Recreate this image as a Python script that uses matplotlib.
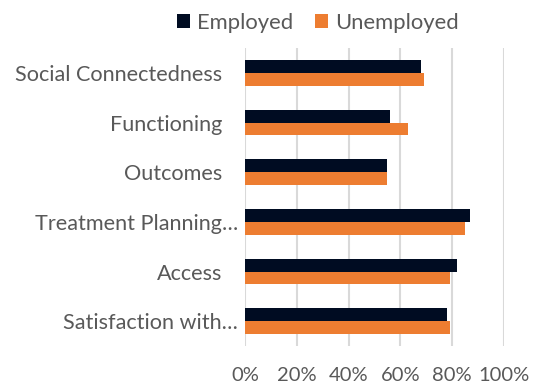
import numpy as np
import matplotlib.pyplot as plt
from matplotlib.transforms import ScaledTranslation

# data
categories = ['Social Connectedness', 'Functioning', 'Outcomes',
              'Treatment Planning…', 'Access', 'Satisfaction with…']
employed = [68, 56, 55, 87, 82, 78]
unemployed = [69, 63, 55, 85, 79, 79]
xticks = [0, 20, 40, 60, 80, 100]

plt.rcParams['font.family'] = ['Lato', 'DejaVu Sans']

fig = plt.figure(figsize=(5.35, 3.86), dpi=100)
ax = fig.add_axes([245 / 535, 1 - 346 / 386, 259 / 535, 298 / 386])

y = np.arange(len(categories))
h = 0.26
ax.barh(y - h / 2, employed, height=h, color='#000c22', label='Employed')
ax.barh(y + h / 2, unemployed, height=h, color='#ed7d31', label='Unemployed')

ax.set_ylim(len(categories) - 0.5, -0.5)
ax.set_xlim(0, 100)
ax.set_xticks(xticks)
ax.set_xticklabels([f'{t}%' for t in xticks])
ax.set_yticks(y)
ax.set_yticklabels(categories)

ax.grid(axis='x', color='#d9d9d9', linewidth=1.5)
ax.set_axisbelow(True)
for s in ax.spines.values():
    s.set_visible(False)
ax.tick_params(length=0, colors='#595959')
ax.tick_params(axis='y', pad=5, labelsize=15.6)
ax.tick_params(axis='x', pad=15, labelsize=14.5)

# labels without an ellipsis sit a bit further left (trailing space in source)
shift = ScaledTranslation(-16 / 100, 0, fig.dpi_scale_trans)
for lab in ax.get_yticklabels():
    if not lab.get_text().endswith('…'):
        lab.set_transform(lab.get_transform() + shift)

fig.legend(loc='center', bbox_to_anchor=(318 / 535, 1 - 23 / 386), ncol=2, frameon=False,
           fontsize=15.8, handlelength=0.6, handleheight=0.6, handletextpad=0.32,
           columnspacing=1.0, labelcolor='#595959', borderpad=0)

fig.savefig('out.png', dpi=100)
